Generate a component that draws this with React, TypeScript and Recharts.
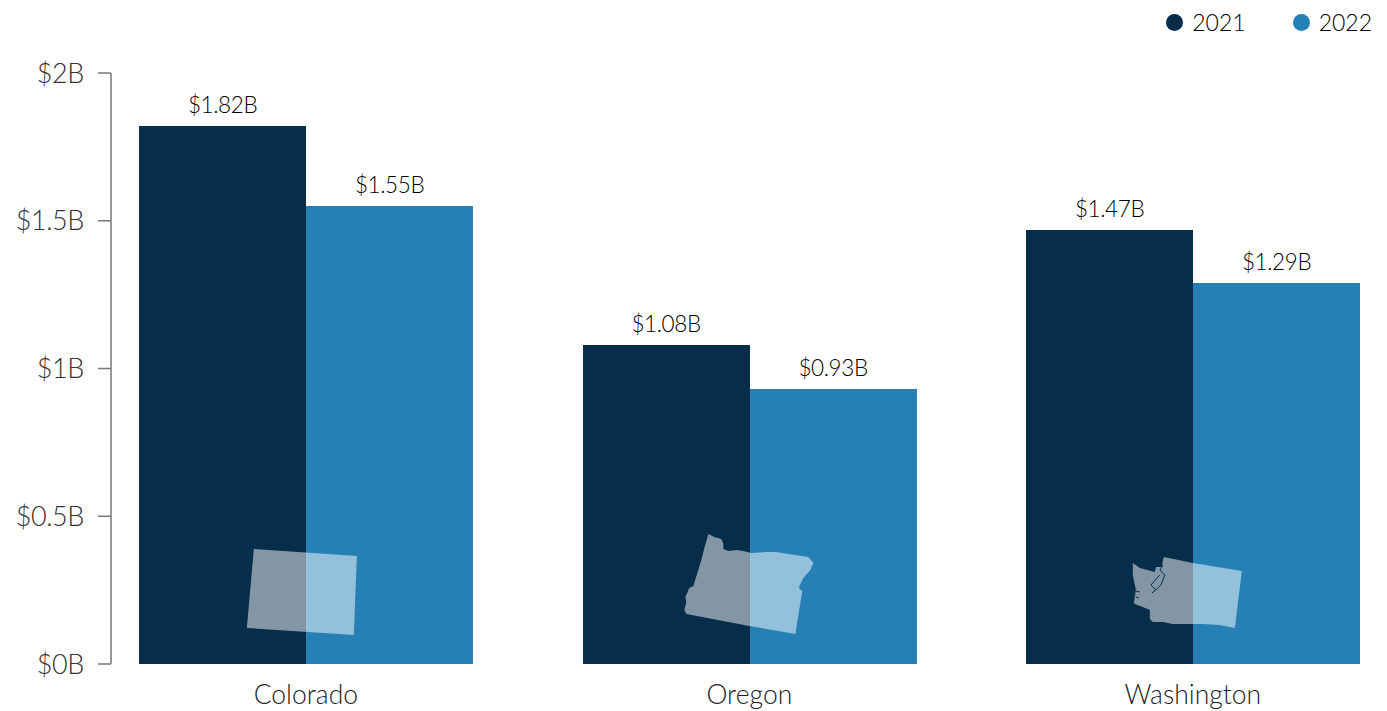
import { BarChart, Bar, XAxis, YAxis, LabelList, Legend, ReferenceDot } from "recharts";

const states = ["Colorado", "Oregon", "Washington"];
const values2021 = [1.82, 1.08, 1.47];
const values2022 = [1.55, 0.93, 1.29];
const yTicks = [0, 0.5, 1, 1.5, 2];

const chartData = states.map((state, i) => ({
  state,
  y2021: values2021[i],
  y2022: values2022[i],
}));

const DARK = "#062d4a";
const BLUE = "#2680b5";
const FONT = "Lato, sans-serif";

// state silhouettes, drawn around each category's baseline point
const outlines: Record<string, string> = {
  Colorado: "M-52,-115 L51,-108 L48,-29 L-59,-36 Z",
  Oregon:
    "M-41,-130 L-35,-127 L-28,-125 L-26,-120 L-26,-115 L-21,-113 L-13,-114 L-6,-113 L2,-111 L17,-112 L27,-112 L39,-110 L59,-107 L64,-101 L61,-94 L54,-86 L50,-78 L50,-75 L53,-73 L52,-67 L46,-30 L0,-38 L-63,-50 L-65,-54 L-63,-62 L-64,-67 L-60,-76 L-56,-78 L-48,-104 L-45,-116 Z",
  Washington:
    "M-29,-107 L0,-101 L49,-93 L42,-36 L27,-39 L10,-40 L0,-40 L-10,-40 L-20,-40 L-30,-42 L-40,-42 L-43,-45 L-43,-54 L-50,-57 L-58,-60 L-59,-61 L-57,-74 L-60,-89 L-60,-101 L-53,-96 L-38,-92 L-37,-97 L-31,-97 L-30,-103 Z",
};

// Puget Sound and the coastal harbours are thin dark lines over the fill
const inlets: Record<string, string> = {
  Washington:
    "M-33,-89 L-42,-79 L-37,-74 L-32,-79 L-28,-89 L-33,-94 L-30,-99 M-37,-74 L-41,-71 M-57,-73 L-53,-72 M-57,-67 L-54,-66",
};

function StateShape({ cx, cy, name }: { cx?: number; cy?: number; name: string }) {
  return (
    <g transform={`translate(${cx},${cy})`}>
      <path d={outlines[name]} fill="#fff" fillOpacity={0.5} />
      {inlets[name] && <path d={inlets[name]} fill="none" stroke={DARK} strokeWidth={1} />}
    </g>
  );
}

function TopLegend() {
  const items = [
    { label: "2021", color: DARK },
    { label: "2022", color: BLUE },
  ];
  return (
    <div style={{ display: "flex", justifyContent: "flex-end", height: 30, fontFamily: FONT, fontSize: 23, fontWeight: 300, color: "#000" }}>
      {items.map((item, i) => (
        <div key={item.label} style={{ display: "flex", alignItems: "center", marginLeft: i ? 47 : 0 }}>
          <span style={{ width: 17, height: 17, borderRadius: "50%", background: item.color, marginRight: 9 }} />
          {item.label}
        </div>
      ))}
    </div>
  );
}

export default function App() {
  return (
    <div style={{ position: "absolute", left: 0, top: 0, width: 1387, height: 711 }}>
      <BarChart
        width={1387}
        height={711}
        data={chartData}
        barSize={167}
        barGap={0}
        margin={{ top: 43, right: 0, bottom: 0, left: 0 }}
      >
        <Legend
          verticalAlign="top"
          align="right"
          content={<TopLegend />}
          wrapperStyle={{ top: 7, right: 15, left: "auto", width: 300 }}
        />
        <XAxis
          dataKey="state"
          interval={0}
          height={47}
          axisLine={false}
          tickLine={false}
          tickMargin={15}
          padding={{ left: -26.9, right: -27.6 }}
          tick={{ fill: "#222", fontSize: 26.5, fontWeight: 300, fontFamily: FONT }}
        />
        <YAxis
          width={111}
          domain={[0, 2]}
          ticks={yTicks}
          tickSize={13}
          tickMargin={14}
          interval={0}
          axisLine={{ stroke: "#777", strokeWidth: 1.5 }}
          tickLine={{ stroke: "#777", strokeWidth: 1.5 }}
          tickFormatter={(v: number) => `$${v}B`}
          tick={{ fill: "#333", fontSize: 27, fontWeight: 300, letterSpacing: -0.4, fontFamily: FONT }}
        />
        <Bar dataKey="y2021" name="2021" fill={DARK} shapeRendering="crispEdges" isAnimationActive={false}>
          <LabelList
            dataKey="y2021"
            position="top"
            offset={13}
            formatter={(v: number) => `$${v.toFixed(2)}B`}
            style={{ fill: "#000", fontSize: 22.5, fontWeight: 300, letterSpacing: -0.4, fontFamily: FONT }}
          />
        </Bar>
        <Bar dataKey="y2022" name="2022" fill={BLUE} shapeRendering="crispEdges" isAnimationActive={false}>
          <LabelList
            dataKey="y2022"
            position="top"
            offset={13}
            formatter={(v: number) => `$${v.toFixed(2)}B`}
            style={{ fill: "#000", fontSize: 22.5, fontWeight: 300, letterSpacing: -0.4, fontFamily: FONT }}
          />
        </Bar>
        {states.map(name => (
          <ReferenceDot key={name} x={name} y={0} shape={<StateShape name={name} />} />
        ))}
      </BarChart>
    </div>
  );
}
